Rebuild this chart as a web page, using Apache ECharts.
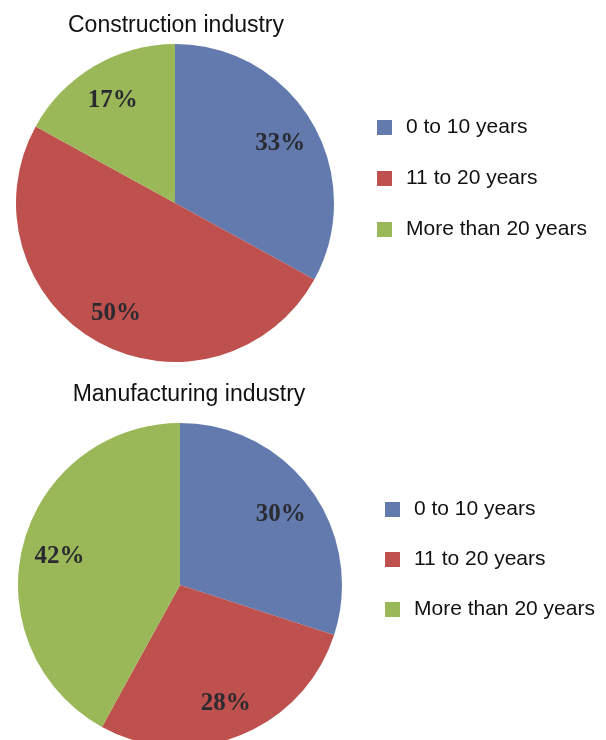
<!DOCTYPE html>
<html><head><meta charset="utf-8">
<script src="https://cdn.jsdelivr.net/npm/echarts@6/dist/echarts.min.js"></script>
<style>html,body{margin:0;padding:0;background:#fff;}#c{width:606px;height:740px;}</style>
</head><body><div id="c"></div>
<script>
const categories = ['0 to 10 years', '11 to 20 years', 'More than 20 years'];
const constructionValues = [33, 50, 17];
const manufacturingValues = [30, 28, 42];
const titles = ['Construction industry', 'Manufacturing industry'];
const colors = ['#627aae', '#be504d', '#9bb858'];

const chart = echarts.init(document.getElementById('c'), null, {renderer: 'canvas'});
function mk(vals){ return categories.map((n,i)=>({name:n, value:vals[i]})); }
const pies = [
  {vals: constructionValues, center: [175, 203], r: 159},
  {vals: manufacturingValues, center: [180, 585], r: 162}
];
const series = [];
pies.forEach((p, k) => {
  series.push({
    type: 'pie', center: p.center, radius: [0, p.r], startAngle: 90, clockwise: true,
    data: mk(p.vals), label: {show: false}, labelLine: {show: false},
    itemStyle: {borderWidth: 0}, emphasis: {disabled: true}, animation: false
  });
  series.push({
    type: 'pie', center: p.center, radius: [p.r * 0.5, p.r], startAngle: 90, clockwise: true,
    data: mk(p.vals), silent: true, legendHoverLink: false,
    itemStyle: {color: 'rgba(0,0,0,0)', borderWidth: 0},
    label: {show: true, position: 'inside', formatter: '{c}%', fontFamily: 'Liberation Serif', fontWeight: 'bold', fontSize: 25, color: '#2a2a30', offset: [0, 3]},
    labelLine: {show: false}, emphasis: {disabled: true}, animation: false
  });
});
const legendBase = {
  orient: 'vertical', icon: 'rect', itemWidth: 15, itemHeight: 15, itemGap: 30,
  selectedMode: false, data: categories,
  textStyle: {fontFamily: 'Liberation Sans', fontSize: 21, color: '#111', lineHeight: 20, padding: [0,0,0,9]}
};
chart.setOption({
  animation: false,
  color: colors,
  title: [
    {text: titles[0], left: 171, top: 9, textAlign: 'center', textStyle: {fontFamily: 'Liberation Sans', fontSize: 23, fontWeight: 'normal', color: '#111'}},
    {text: titles[1], left: 184, top: 378, textAlign: 'center', textStyle: {fontFamily: 'Liberation Sans', fontSize: 23, fontWeight: 'normal', color: '#111'}}
  ],
  legend: [
    Object.assign({}, legendBase, {left: 372, top: 112}),
    Object.assign({}, legendBase, {left: 380, top: 494, itemGap: 29})
  ],
  series: series
});
</script></body></html>
